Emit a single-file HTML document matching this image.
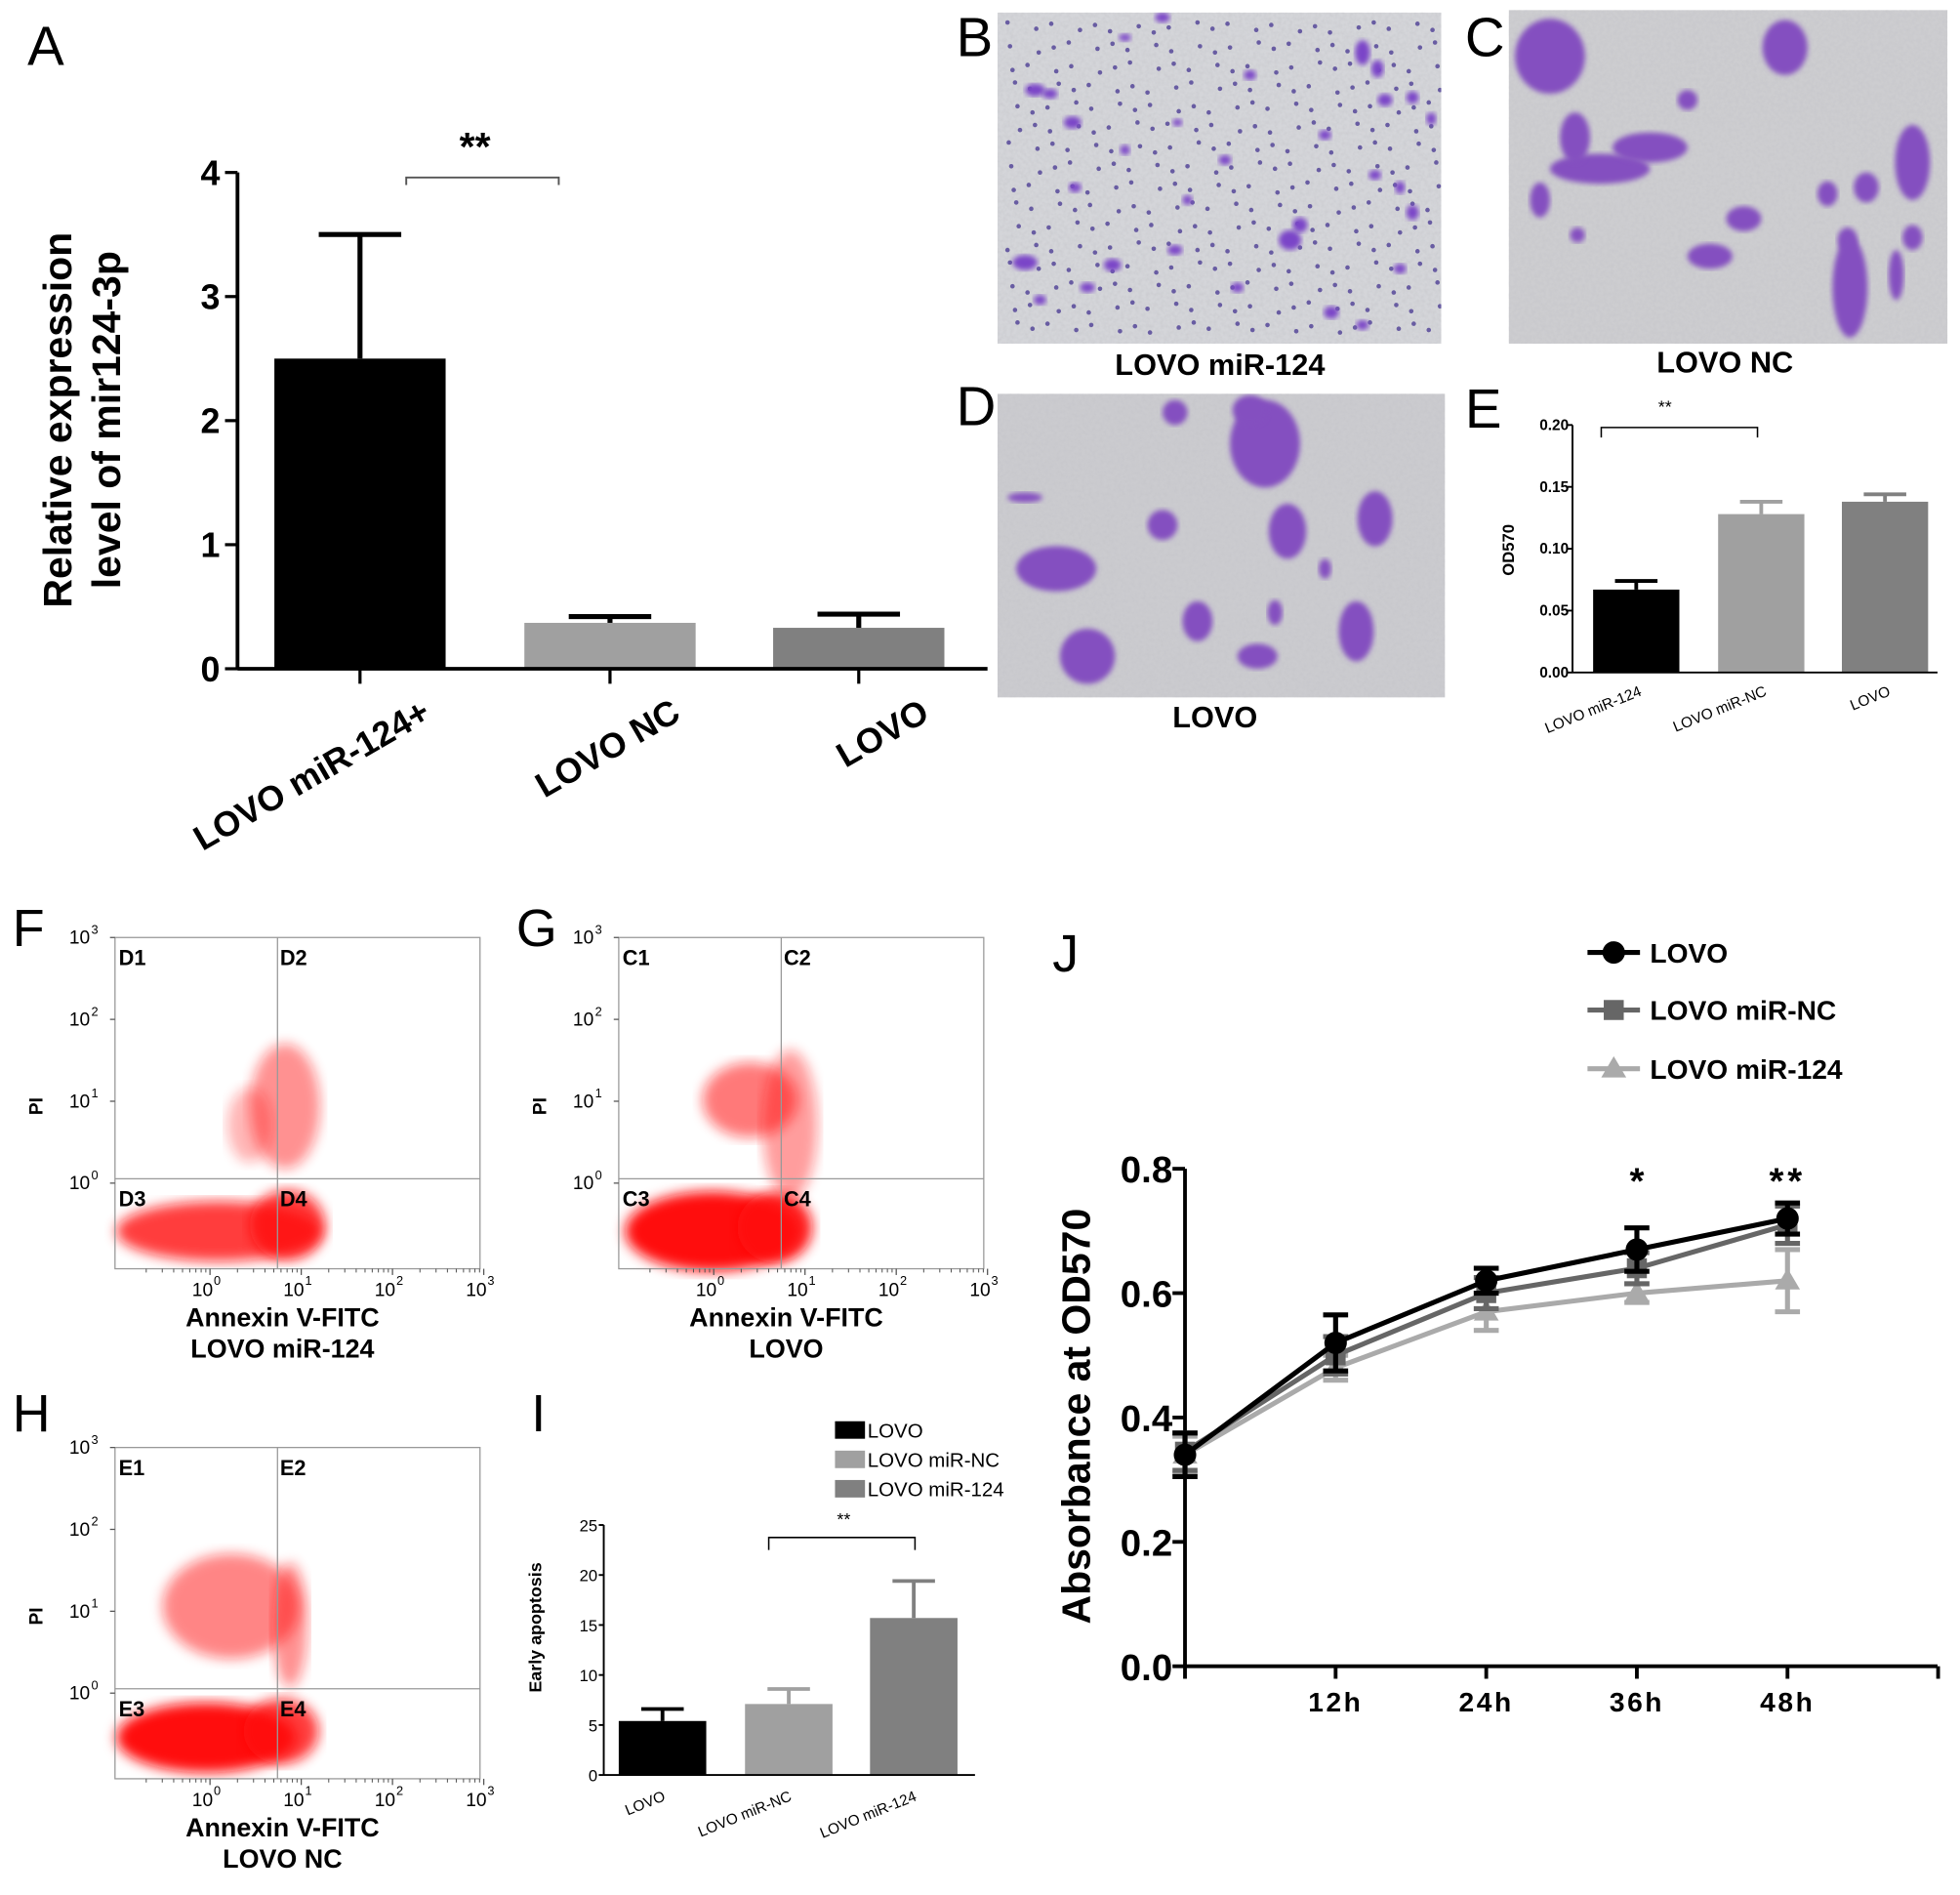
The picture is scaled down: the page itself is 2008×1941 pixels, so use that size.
<!DOCTYPE html>
<html><head><meta charset="utf-8">
<style>
html,body{margin:0;padding:0;background:#fff;}
svg{display:block;font-family:"Liberation Sans",Arial,sans-serif;}
</style></head>
<body>
<svg id="fig" width="2008" height="1941" viewBox="0 0 1568 1516" preserveAspectRatio="none">
<defs>
<filter id="blur2"><feGaussianBlur stdDeviation="2"/></filter>
<filter id="blur4"><feGaussianBlur stdDeviation="5"/></filter>
<filter id="noise" x="0" y="0" width="1" height="1"><feTurbulence type="fractalNoise" baseFrequency="0.35" numOctaves="2" seed="3"/><feColorMatrix type="matrix" values="0 0 0 0 0.55  0 0 0 0 0.55  0 0 0 0 0.58  0 0 0 1.4 -0.5"/></filter>
<clipPath id="clipB"><rect x="798" y="10" width="355" height="265"/></clipPath>
<clipPath id="clipC"><rect x="1207" y="8" width="351" height="267"/></clipPath>
<clipPath id="clipD"><rect x="798" y="315" width="358" height="243"/></clipPath>
</defs>
<g id="panelA"></g>
<g id="micro"></g>
<g id="panelE"></g>
<g id="flow"></g>
<g id="panelI"></g>
<g id="panelJ"></g>
</svg>
<script>
// ---- Panel A data
const aCategories = ["LOVO miR-124+","LOVO NC","LOVO"];
const aValues = [2.5, 0.37, 0.33];
const aErrors = [1.0, 0.05, 0.11];
const aTicks = [0,1,2,3,4];
// ---- Panel E data
const eCategories = ["LOVO miR-124","LOVO miR-NC","LOVO"];
const eValues = [0.067, 0.128, 0.138];
const eErrors = [0.007, 0.010, 0.006];
const eTicks = ["0.00","0.05","0.10","0.15","0.20"];
// ---- Panel I data
const iCategories = ["LOVO","LOVO miR-NC","LOVO miR-124"];
const iValues = [5.4, 7.1, 15.7];
const iErrors = [1.2, 1.5, 3.7];
const iTicks = [0,5,10,15,20,25];
// ---- Panel J data
const jTimes = [0,12,24,36,48];
const jTickLabels = ["","12h","24h","36h","48h",""];
const jLovo = [0.34,0.52,0.62,0.67,0.72];
const jLovoErr = [0.035,0.045,0.02,0.035,0.025];
const jNC = [0.345,0.50,0.60,0.64,0.71];
const jNCErr = [0.03,0.03,0.025,0.025,0.03];
const jMir = [0.34,0.48,0.57,0.60,0.62];
const jMirErr = [0.03,0.02,0.03,0.015,0.05];
const jYTicks = ["0.0","0.2","0.4","0.6","0.8"];

const NS="http://www.w3.org/2000/svg";
function mk(parent,tag,attrs,text){const e=document.createElementNS(NS,tag);for(const k in attrs)e.setAttribute(k,attrs[k]);if(text!==undefined)e.textContent=text;parent.appendChild(e);return e;}
function line(p,x1,y1,x2,y2,st,w){return mk(p,'line',{x1,y1,x2,y2,stroke:st||'#000','stroke-width':w||2});}

// ===== Panel A
(function(){
const g=document.getElementById('panelA');
const x0=190,x1=790,yTop=138,yBot=535,max=4;
const y=v=>yBot-(v/max)*(yBot-yTop);
const colors=['#000','#a0a0a0','#808080'];
const centers=[288,488,687];const bw=137;
let t=mk(g,'text',{x:22,y:52,'font-size':44},'A');

aValues.forEach((v,i)=>{
  const r=mk(g,'rect',{x:centers[i]-bw/2,y:y(v),width:bw,height:yBot-y(v),fill:colors[i]});
  
  
  const top=y(v+aErrors[i]);
  line(g,centers[i],y(v),centers[i],top,'#000',4);
  line(g,centers[i]-33,top,centers[i]+33,top,'#000',4);
  line(g,centers[i],yBot,centers[i],yBot+12,'#000',2.5);
  const ax=centers[i]+58, ay=yBot+40;
  const lb=mk(g,'text',{x:ax,y:ay,'font-size':28,'font-weight':'bold','text-anchor':'end',transform:`rotate(-30 ${ax} ${ay})`},aCategories[i]);
  
});
line(g,x0,yTop,x0,yBot+1,'#000',3);
line(g,x0,yBot,x1,yBot,'#000',3);
aTicks.forEach(v=>{line(g,x0-10,y(v),x0,y(v),'#000',2.5);
 const tl=mk(g,'text',{x:x0-14,y:y(v)+10,'font-size':28,'font-weight':'bold','text-anchor':'end'},String(v));
 });
const yt=mk(g,'text',{transform:'translate(57 336) rotate(-90)','font-size':32,'font-weight':'bold','text-anchor':'middle'},'Relative  expression');

mk(g,'text',{transform:'translate(96 336) rotate(-90)','font-size':32,'font-weight':'bold','text-anchor':'middle'},'level of mir124-3p');
mk(g,'path',{d:'M325 148 L325 142 L447 142 L447 148',fill:'none',stroke:'#555','stroke-width':1.5});
mk(g,'text',{x:380,y:128,'font-size':32,'font-weight':'bold','text-anchor':'middle'},'**');
})();

// ===== Microscopy images
(function(){
const g=document.getElementById('micro');
const panels=[
 {n:'b',clip:'clipB',x:798,y:10,w:355,h:265,bg:'#d4d5d9',label:'LOVO miR-124',lx:976,ly:300,L:'B',Lx:765,Ly:45,
  blobs:[[828,72,8,5],[840,75,6,4],[858,98,7,5],[900,30,5,3],[930,14,6,4],[1032,192,9,8],[1040,180,6,6],[1090,42,6,10],[1102,55,5,7],[1108,80,6,5],[1130,78,5,5],[1145,95,4,5],[820,210,10,6],[832,240,5,4],[870,230,6,4],[890,212,7,5],[940,200,6,4],[990,230,5,4],[1065,250,6,5],[1090,260,5,4],[1120,215,5,4],[942,98,4,3],[980,128,5,4],[1060,108,5,4],[1000,60,5,4],[1100,140,5,4],[860,150,5,4],[900,120,4,4],[950,160,4,4],[1130,170,5,6],[1120,150,4,5]],
  dots:true, c:'#7a45c8'},
 {n:'c',clip:'clipC',x:1207,y:8,w:351,h:267,bg:'#cdcdd0',label:'LOVO NC',lx:1380,ly:298,L:'C',Lx:1172,Ly:45,
  blobs:[[1240,45,28,30],[1280,135,40,12],[1260,110,12,20],[1320,118,30,12],[1428,38,18,22],[1350,80,8,8],[1395,175,14,10],[1368,205,18,10],[1462,155,8,10],[1493,150,10,12],[1530,130,14,30],[1478,192,8,10],[1530,190,8,10],[1480,230,14,40],[1517,220,6,20],[1262,188,6,6],[1232,160,8,14]],
  dots:false, c:'#8450c0'},
 {n:'d',clip:'clipD',x:798,y:315,w:358,h:243,bg:'#cbcbcf',label:'LOVO',lx:972,ly:582,L:'D',Lx:765,Ly:340,
  blobs:[[1012,355,28,35],[1000,328,14,12],[940,330,10,10],[1030,425,15,22],[1100,415,14,22],[930,420,12,12],[845,455,32,18],[870,525,22,22],[958,497,12,16],[1006,525,16,10],[1085,505,14,24],[1020,490,6,10],[1060,455,5,8],[820,398,14,4]],
  dots:false, c:'#8450c0'}
];
panels.forEach(p=>{
  const sg=mk(g,'g',{'clip-path':'url(#'+p.clip+')'});
  
  
  mk(sg,'rect',{x:p.x,y:p.y,width:p.w,height:p.h,fill:p.bg});
  mk(sg,'rect',{x:p.x,y:p.y,width:p.w,height:p.h,filter:'url(#noise)',opacity:0.6});
  if(p.dots){for(let i=0;i<22;i++)for(let j=0;j<16;j++){const dx=p.x+8+i*16+((i*7+j*13)%11);const dy=p.y+8+j*16+((i*5+j*3)%9);mk(sg,'circle',{cx:dx,cy:dy,r:1.8,fill:'#4e3f95',opacity:0.8});}}
  p.blobs.forEach(b=>mk(sg,'ellipse',{cx:b[0],cy:b[1],rx:b[2],ry:b[3],fill:p.c,filter:'url(#blur2)'}));
  const lt=mk(g,'text',{x:p.lx,y:p.ly,'font-size':24,'font-weight':'bold','text-anchor':'middle'},p.label);
  
  mk(g,'text',{x:p.Lx,y:p.Ly,'font-size':44},p.L);
});
})();

// ===== Panel E
(function(){
const g=document.getElementById('panelE');
const x0=1258,x1=1550,yTop=340,yBot=538,max=0.2;
const y=v=>yBot-(v/max)*(yBot-yTop);
const colors=['#000','#a0a0a0','#808080'];const centers=[1309,1409,1508];const bw=69;
eValues.forEach((v,i)=>{
  const r=mk(g,'rect',{x:centers[i]-bw/2,y:y(v),width:bw,height:yBot-y(v),fill:colors[i]});
  
  const top=y(v+eErrors[i]);
  line(g,centers[i],y(v),centers[i],top,colors[i],3);
  line(g,centers[i]-17,top,centers[i]+17,top,colors[i],3);
  mk(g,'text',{x:centers[i]+5,y:yBot+18,'font-size':12,'text-anchor':'end',transform:`rotate(-22 ${centers[i]+5} ${yBot+18})`},eCategories[i]);
});
line(g,x0,yTop,x0,yBot,'#000',1.5);line(g,x0,yBot,x1,yBot,'#000',1.5);
eTicks.forEach((s,i)=>{const v=i*0.05;line(g,x0-4,y(v),x0,y(v),'#000',1.5);
 mk(g,'text',{x:x0-3,y:y(v)+4,'font-size':12,'font-weight':'bold','text-anchor':'end'},s);});
mk(g,'text',{transform:'translate(1211 440) rotate(-90)','font-size':13,'font-weight':'bold','text-anchor':'middle'},'OD570');
mk(g,'path',{d:'M1281 350 L1281 342 L1406 342 L1406 350',fill:'none',stroke:'#000','stroke-width':1.2});
mk(g,'text',{x:1332,y:330,'font-size':14,'text-anchor':'middle'},'**');
mk(g,'text',{x:1172,y:342,'font-size':44},'E');
})();

// ===== Flow plots
(function(){
const g=document.getElementById('flow');
const plots=[
 {n:'f',x:92,y:750,qx:222,qy:943,q:['D1','D2','D3','D4'],cap:'LOVO miR-124',L:'F',Lx:10,Ly:757,
  clouds:[[175,985,82,24,0.8],[230,980,30,28,0.8],[228,885,28,50,0.45],[200,900,18,30,0.3]]},
 {n:'g',x:495,y:750,qx:625,qy:943,q:['C1','C2','C3','C4'],cap:'LOVO',L:'G',Lx:413,Ly:757,
  clouds:[[570,985,70,32,1],[620,982,30,28,0.9],[600,880,38,30,0.55],[632,900,22,60,0.4]]},
 {n:'h',x:92,y:1158,qx:222,qy:1351,q:['E1','E2','E3','E4'],cap:'LOVO NC',L:'H',Lx:10,Ly:1145,
  clouds:[[165,1390,72,28,1],[225,1385,30,26,0.8],[185,1285,55,42,0.5],[232,1300,14,50,0.45]]}
];
plots.forEach(p=>{
  const sg=mk(g,'g',{});
  
  
  const W=292,H=265;
  p.clouds.forEach(c=>mk(sg,'ellipse',{cx:c[0],cy:c[1],rx:c[2],ry:c[3],fill:'#ff1010',opacity:c[4],filter:'url(#blur4)'}));
  mk(sg,'rect',{x:p.x,y:p.y,width:W,height:H,fill:'none',stroke:'#999','stroke-width':1});
  line(sg,p.qx,p.y,p.qx,p.y+H,'#999',1);line(sg,p.x,p.qy,p.x+W,p.qy,'#999',1);
  const qp=[[p.x+3,p.y+22],[p.qx+2,p.y+22],[p.x+3,p.qy+22],[p.qx+2,p.qy+22]];
  p.q.forEach((s,i)=>mk(sg,'text',{x:qp[i][0],y:qp[i][1],'font-size':17,'font-weight':'bold'},s));
  ['3','2','1','0'].forEach((e,i)=>{const yy=p.y+i*65.5;
    line(sg,p.x-4,yy,p.x,yy,'#555',1);
    mk(sg,'text',{x:p.x-20,y:yy+5,'font-size':15,'text-anchor':'end'},'10');
    mk(sg,'text',{x:p.x-19,y:yy-3,'font-size':10},e);});
  ['0','1','2','3'].forEach((e,i)=>{const xx=p.x+76+i*73;
    line(sg,xx,p.y+H,xx,p.y+H+5,'#555',1);
    for(let k=2;k<10;k++){const mx=xx-73+73*Math.log10(k);if(mx>p.x)line(sg,mx,p.y+H,mx,p.y+H+3,'#555',0.8);}
    mk(sg,'text',{x:xx-6,y:p.y+H+22,'font-size':15,'text-anchor':'middle'},'10');
    mk(sg,'text',{x:xx+3,y:p.y+H+13,'font-size':10},e);});
  mk(sg,'text',{transform:`translate(${p.x-58} ${p.y+135}) rotate(-90)`,'font-size':15,'font-weight':'bold','text-anchor':'middle'},'PI');
  const cx=p.x+134;
  mk(sg,'text',{x:cx,y:p.y+H+46,'font-size':21,'font-weight':'bold','text-anchor':'middle'},'Annexin V-FITC');
  mk(sg,'text',{x:cx,y:p.y+H+71,'font-size':21,'font-weight':'bold','text-anchor':'middle'},p.cap);
  mk(g,'text',{x:p.Lx,y:p.Ly,'font-size':42},p.L);
});
})();

// ===== Panel I
(function(){
const g=document.getElementById('panelI');
const x0=483,x1=780,yTop=1220,yBot=1420,max=25;
const y=v=>yBot-(v/max)*(yBot-yTop);
const colors=['#000','#a0a0a0','#808080'];const centers=[530,631,731];const bw=70;
iValues.forEach((v,i)=>{
  const r=mk(g,'rect',{x:centers[i]-bw/2,y:y(v),width:bw,height:yBot-y(v),fill:colors[i]});
  
  const top=y(v+iErrors[i]);
  line(g,centers[i],y(v),centers[i],top,colors[i],3);
  line(g,centers[i]-17,top,centers[i]+17,top,colors[i],3);
  mk(g,'text',{x:centers[i]+3,y:yBot+20,'font-size':12,'text-anchor':'end',transform:`rotate(-22 ${centers[i]+3} ${yBot+20})`},iCategories[i]);
});
line(g,x0,yTop,x0,yBot,'#000',1.5);line(g,x0,yBot,x1,yBot,'#000',1.5);
iTicks.forEach(v=>{line(g,x0-4,y(v),x0,y(v),'#000',1.5);
 mk(g,'text',{x:x0-5,y:y(v)+5,'font-size':13,'text-anchor':'end'},String(v));});
mk(g,'text',{transform:'translate(433 1302) rotate(-90)','font-size':14,'font-weight':'bold','text-anchor':'middle'},'Early apoptosis');
mk(g,'path',{d:'M615 1240 L615 1230 L732 1230 L732 1240',fill:'none',stroke:'#000','stroke-width':1.2});
mk(g,'text',{x:675,y:1220,'font-size':14,'text-anchor':'middle'},'**');
iCategories.forEach((c,i)=>{
  const lg=mk(g,'g',{});
  
  mk(lg,'rect',{x:668,y:1137+i*23.5,width:24,height:14,fill:colors[i]});
  mk(lg,'text',{x:694,y:1150+i*23.5,'font-size':16},c);
});
mk(g,'text',{x:425,y:1145,'font-size':42},'I');
})();

// ===== Panel J
(function(){
const g=document.getElementById('panelJ');
const x0=948,x1=1550,yTop=935,yBot=1333,max=0.8;
const y=v=>yBot-(v/max)*(yBot-yTop);
const x=t=>x0+t*(1430-948)/48;
mk(g,'text',{x:842,y:777,'font-size':42},'J');
line(g,x0,yTop,x0,yBot,'#000',3);line(g,x0,yBot,x1,yBot,'#000',3);
jYTicks.forEach((s,i)=>{const v=i*0.2;line(g,x0-10,y(v),x0,y(v),'#000',3);
 mk(g,'text',{x:x0-10,y:y(v)+11,'font-size':30,'font-weight':'bold','text-anchor':'end'},s);});
jTickLabels.forEach((s,i)=>{const xx=x(i*12);line(g,xx,yBot,xx,yBot+10,'#000',3);
 if(s)mk(g,'text',{x:xx,y:yBot+36,'font-size':22,'font-weight':'bold','text-anchor':'middle','letter-spacing':2},s);});
mk(g,'text',{transform:'translate(872 1133) rotate(-90)','font-size':32,'font-weight':'bold','text-anchor':'middle'},'Absorbance at OD570');
const series=[
 {name:'LOVO miR-124',vals:jMir,err:jMirErr,col:'#aaaaaa',m:'tri'},
 {name:'LOVO miR-NC',vals:jNC,err:jNCErr,col:'#666666',m:'sq'},
 {name:'LOVO',vals:jLovo,err:jLovoErr,col:'#000000',m:'circ'}];
function marker(p,m,cx,cy,col){
  if(m==='circ')return mk(p,'circle',{cx,cy,r:9,fill:col});
  if(m==='sq')return mk(p,'rect',{x:cx-8,y:cy-8,width:16,height:16,fill:col});
  return mk(p,'polygon',{points:`${cx},${cy-10} ${cx+10},${cy+7} ${cx-10},${cy+7}`,fill:col});
}
series.forEach(s=>{
  const sg=mk(g,'g',{});
  
  
  mk(sg,'polyline',{points:s.vals.map((v,i)=>x(jTimes[i])+','+y(v)).join(' '),fill:'none',stroke:s.col,'stroke-width':4});
  s.vals.forEach((v,i)=>{const cx=x(jTimes[i]);
    line(sg,cx,y(v-s.err[i]),cx,y(v+s.err[i]),s.col,4);
    line(sg,cx-10,y(v+s.err[i]),cx+10,y(v+s.err[i]),s.col,4);
    line(sg,cx-10,y(v-s.err[i]),cx+10,y(v-s.err[i]),s.col,4);
    marker(sg,s.m,cx,y(v),s.col);});
});
mk(g,'text',{x:x(36),y:955,'font-size':30,'font-weight':'bold','text-anchor':'middle'},'*');
mk(g,'text',{x:x(48),y:955,'font-size':30,'font-weight':'bold','text-anchor':'middle','letter-spacing':3},'**');
const leg=[['LOVO','#000','circ',762],['LOVO miR-NC','#666','sq',808],['LOVO miR-124','#aaa','tri',855]];
leg.forEach(l=>{const lg=mk(g,'g',{});
  
  line(lg,1270,l[3],1312,l[3],l[1],4);marker(lg,l[2],1291,l[3],l[1]);
  mk(lg,'text',{x:1320,y:l[3]+8,'font-size':22,'font-weight':'bold'},l[0]);});
})();
</script>
</body></html>
